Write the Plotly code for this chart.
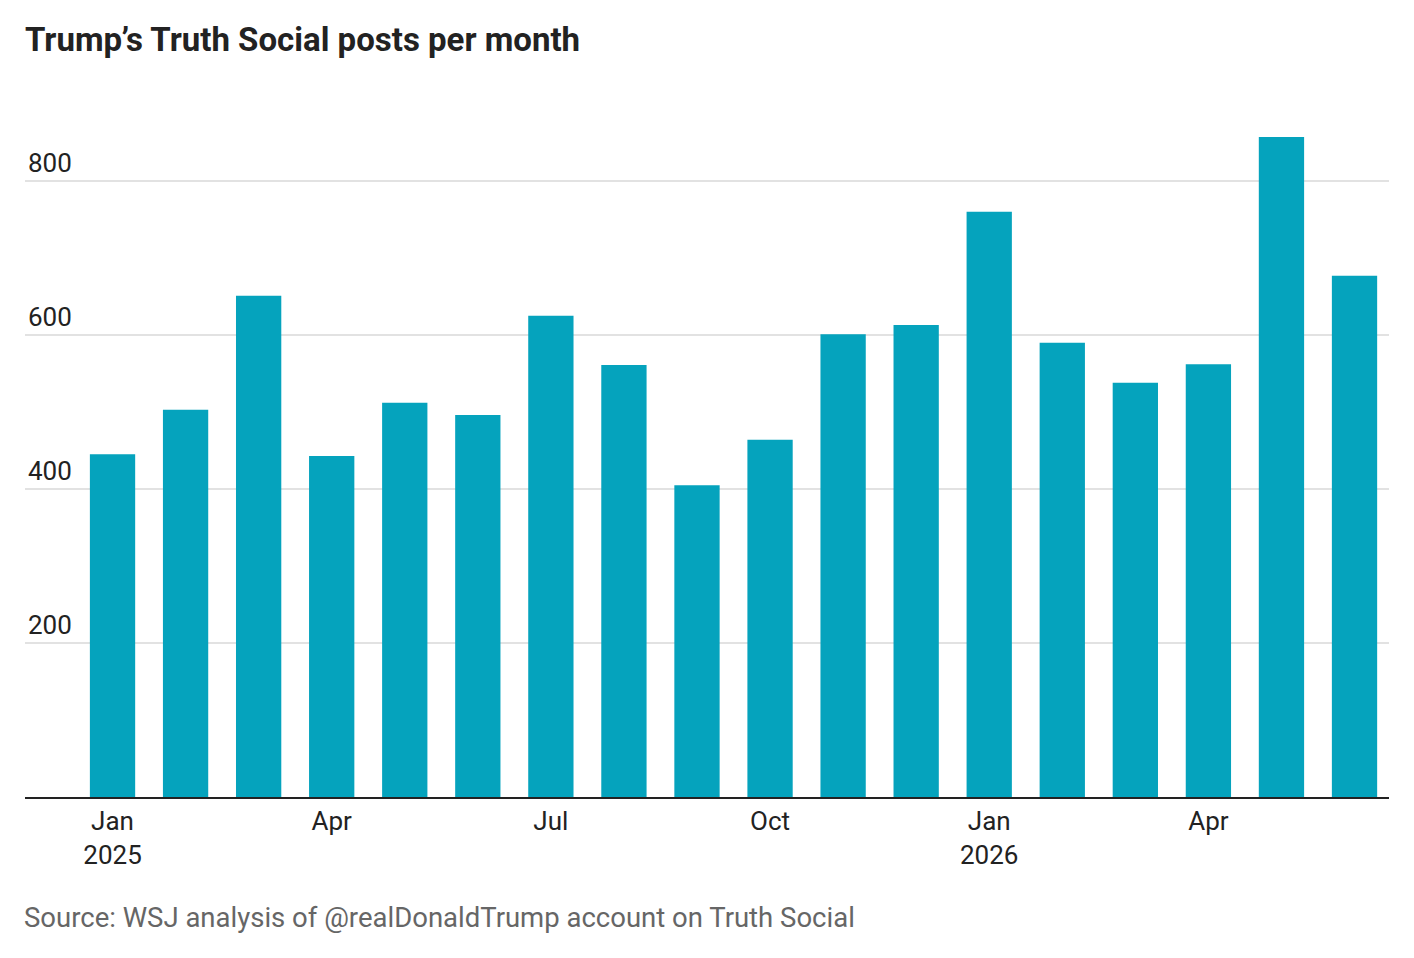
import plotly.graph_objects as go

months = ['2025-01', '2025-02', '2025-03', '2025-04', '2025-05', '2025-06',
          '2025-07', '2025-08', '2025-09', '2025-10', '2025-11', '2025-12',
          '2026-01', '2026-02', '2026-03', '2026-04', '2026-05', '2026-06']
posts = [445, 503, 651, 443, 512, 496, 625, 561, 405, 464, 601, 613,
         760, 590, 538, 562, 857, 677]

tick_idx = [0, 3, 6, 9, 12, 15]
tick_labels = ['Jan<br>2025', 'Apr', 'Jul', 'Oct', 'Jan<br>2026', 'Apr']
y_ticks = [200, 400, 600, 800]

font_family = 'Roboto, Liberation Sans, sans-serif'

# page body has an 8px margin, so the figure is a bit smaller than the window
W, H = 1398, 942

fig = go.Figure()

fig.add_trace(go.Bar(
    x=list(range(len(months))),
    y=posts,
    marker_color='#05a3bd',
    marker_line_width=0,
    hovertext=months,
))

fig.update_layout(
    width=W,
    height=H,
    plot_bgcolor='white',
    paper_bgcolor='white',
    margin=dict(l=17, r=17, t=96, b=153),
    bargap=0.38,
    showlegend=False,
    font=dict(family=font_family, size=26, color='#222222'),
    title=dict(
        text='<b>Trump’s Truth Social posts per month</b>',
        font=dict(family=font_family, size=33, color='#222222'),
        x=17 / W, xanchor='left', xref='container',
        y=1 - 20 / H, yanchor='top', yref='container',
    ),
)

fig.update_xaxes(
    range=[-1.198, 17.472],
    tickvals=tick_idx,
    ticktext=tick_labels,
    showgrid=False,
    showline=True,
    linecolor='#222222',
    linewidth=2,
    ticks='',
    tickfont=dict(size=26, color='#222222'),
    zeroline=False,
)

fig.update_yaxes(
    range=[0, 900],
    tickvals=y_ticks,
    ticktext=[str(v) for v in y_ticks],
    showgrid=True,
    gridcolor='#e2e2e2',
    gridwidth=2,
    zeroline=False,
    ticks='',
    ticklabelposition='inside top',
    tickfont=dict(size=26, color='#222222'),
)

fig.add_annotation(
    text='Source: WSJ analysis of @realDonaldTrump account on Truth Social',
    xref='paper', yref='paper', x=-0.002, y=-0.1746,
    xanchor='left', yanchor='middle', showarrow=False,
    font=dict(family=font_family, size=27.5, color='#666666'),
)

fig.write_html('out.html')
